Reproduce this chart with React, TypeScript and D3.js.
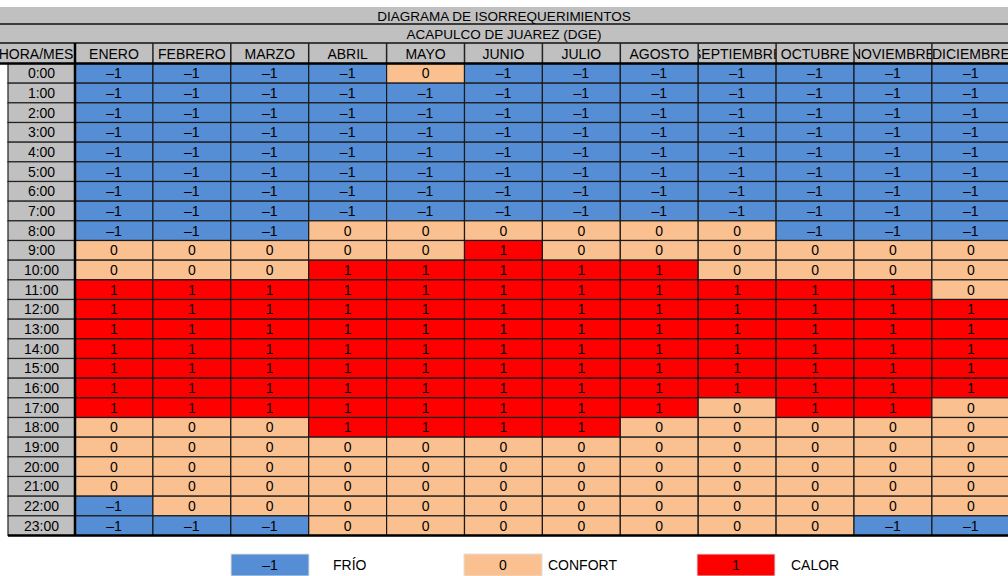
import React, { useRef, useEffect } from "react";
import * as d3 from "d3";

const months = ["ENERO", "FEBRERO", "MARZO", "ABRIL", "MAYO", "JUNIO", "JULIO", "AGOSTO", "SEPTIEMBRE", "OCTUBRE", "NOVIEMBRE", "DICIEMBRE"];
const hours = ["0:00", "1:00", "2:00", "3:00", "4:00", "5:00", "6:00", "7:00", "8:00", "9:00", "10:00", "11:00", "12:00", "13:00", "14:00", "15:00", "16:00", "17:00", "18:00", "19:00", "20:00", "21:00", "22:00", "23:00"];

// one array per month, values for 0:00 .. 23:00
const enero = [-1, -1, -1, -1, -1, -1, -1, -1, -1, 0, 0, 1, 1, 1, 1, 1, 1, 1, 0, 0, 0, 0, -1, -1];
const febrero = [-1, -1, -1, -1, -1, -1, -1, -1, -1, 0, 0, 1, 1, 1, 1, 1, 1, 1, 0, 0, 0, 0, 0, -1];
const marzo = [-1, -1, -1, -1, -1, -1, -1, -1, -1, 0, 0, 1, 1, 1, 1, 1, 1, 1, 0, 0, 0, 0, 0, -1];
const abril = [-1, -1, -1, -1, -1, -1, -1, -1, 0, 0, 1, 1, 1, 1, 1, 1, 1, 1, 1, 0, 0, 0, 0, 0];
const mayo = [0, -1, -1, -1, -1, -1, -1, -1, 0, 0, 1, 1, 1, 1, 1, 1, 1, 1, 1, 0, 0, 0, 0, 0];
const junio = [-1, -1, -1, -1, -1, -1, -1, -1, 0, 1, 1, 1, 1, 1, 1, 1, 1, 1, 1, 0, 0, 0, 0, 0];
const julio = [-1, -1, -1, -1, -1, -1, -1, -1, 0, 0, 1, 1, 1, 1, 1, 1, 1, 1, 1, 0, 0, 0, 0, 0];
const agosto = [-1, -1, -1, -1, -1, -1, -1, -1, 0, 0, 1, 1, 1, 1, 1, 1, 1, 1, 0, 0, 0, 0, 0, 0];
const septiembre = [-1, -1, -1, -1, -1, -1, -1, -1, 0, 0, 0, 1, 1, 1, 1, 1, 1, 0, 0, 0, 0, 0, 0, 0];
const octubre = [-1, -1, -1, -1, -1, -1, -1, -1, -1, 0, 0, 1, 1, 1, 1, 1, 1, 1, 0, 0, 0, 0, 0, 0];
const noviembre = [-1, -1, -1, -1, -1, -1, -1, -1, -1, 0, 0, 1, 1, 1, 1, 1, 1, 1, 0, 0, 0, 0, 0, -1];
const diciembre = [-1, -1, -1, -1, -1, -1, -1, -1, -1, 0, 0, 0, 1, 1, 1, 1, 1, 0, 0, 0, 0, 0, 0, -1];

const series = [enero, febrero, marzo, abril, mayo, junio, julio, agosto, septiembre, octubre, noviembre, diciembre];

const levels = [-1, 0, 1];
const levelNames = ["FRÍO", "CONFORT", "CALOR"];

const title = "DIAGRAMA DE ISORREQUERIMIENTOS";
const subtitle = "ACAPULCO DE JUAREZ (DGE)";

const W = 1008;
const H = 576;
const FONT = "'Liberation Sans', Arial, sans-serif";
const FS = 14;

const App = () => {
  const ref = useRef<SVGSVGElement>(null);

  useEffect(() => {
    if (!ref.current) return;
    const svg = d3.select(ref.current);
    svg.selectAll("*").remove();

    const x = d3.scaleBand<string>().domain(months).range([75, 75 + 12 * 77.9]);
    const y = d3.scaleBand<string>().domain(hours).range([63.5, 535.5]);
    const color = d3.scaleOrdinal<number, string>().domain(levels).range(["#558ed5", "#fac090", "#ff0000"]);
    const labelX0 = x(months[0])! - x.bandwidth();
    const fmt = (v: number) => (v < 0 ? "–1" : String(v));

    const defs = svg.append("defs");

    // title bars
    svg.append("rect").attr("x", 0).attr("y", 7).attr("width", W).attr("height", 56).attr("fill", "#c0c0c0");
    svg.append("line").attr("x1", 0).attr("x2", W).attr("y1", 24).attr("y2", 24).attr("stroke", "#111").attr("stroke-width", 1.5);
    svg.append("line").attr("x1", 0).attr("x2", W).attr("y1", 43).attr("y2", 43).attr("stroke", "#111").attr("stroke-width", 1.5);
    svg.append("text").attr("x", 504).attr("y", 20.5).attr("text-anchor", "middle").attr("font-family", FONT).attr("font-size", 13.5).text(title);
    svg.append("text").attr("x", 504).attr("y", 39).attr("text-anchor", "middle").attr("font-family", FONT).attr("font-size", 13.5).text(subtitle);

    // header row
    const headers = ["HORA/MES", ...months];
    const headX = (i: number) => (i === 0 ? labelX0 : x(months[i - 1])!);
    headers.forEach((h, i) => {
      const hx = headX(i);
      defs.append("clipPath").attr("id", `hclip${i}`)
        .append("rect").attr("x", hx).attr("y", 43).attr("width", x.bandwidth()).attr("height", 20);
      svg.append("text")
        .attr("clip-path", `url(#hclip${i})`)
        .attr("x", hx + x.bandwidth() / 2).attr("y", 58.5)
        .attr("text-anchor", "middle").attr("font-family", FONT).attr("font-size", FS)
        .text(h);
      if (i > 0) {
        svg.append("line").attr("x1", hx).attr("x2", hx).attr("y1", 43).attr("y2", 63)
          .attr("stroke", "#222").attr("stroke-width", 1.5);
      }
    });

    // hour labels
    const rows = svg.append("g");
    rows.selectAll("rect").data(hours).join("rect")
      .attr("x", 8).attr("y", (d) => y(d)!).attr("width", 75 - 8).attr("height", y.bandwidth())
      .attr("fill", "#c0c0c0").attr("stroke", "#222").attr("stroke-width", 1.2);
    rows.selectAll("text").data(hours).join("text")
      .attr("x", (8 + 75) / 2).attr("y", (d) => y(d)! + y.bandwidth() / 2 + 5)
      .attr("text-anchor", "middle").attr("font-family", FONT).attr("font-size", FS)
      .text((d) => d);

    // cells
    const cells = months.flatMap((m, mi) => hours.map((h, hi) => ({ m, h, v: series[mi][hi] })));
    const g = svg.append("g");
    g.selectAll("rect").data(cells).join("rect")
      .attr("x", (d) => x(d.m)!).attr("y", (d) => y(d.h)!)
      .attr("width", x.bandwidth()).attr("height", y.bandwidth())
      .attr("fill", (d) => color(d.v)).attr("stroke", "#1a1a1a").attr("stroke-width", 1.2);
    g.selectAll("text").data(cells).join("text")
      .attr("x", (d) => x(d.m)! + x.bandwidth() / 2).attr("y", (d) => y(d.h)! + y.bandwidth() / 2 + 5)
      .attr("text-anchor", "middle").attr("font-family", FONT).attr("font-size", FS)
      .text((d) => fmt(d.v));

    // heavy borders
    svg.append("line").attr("x1", 0).attr("x2", W).attr("y1", 63.5).attr("y2", 63.5).attr("stroke", "#000").attr("stroke-width", 2.5);
    svg.append("line").attr("x1", 8).attr("x2", W).attr("y1", 535.5).attr("y2", 535.5).attr("stroke", "#000").attr("stroke-width", 2.5);
    svg.append("line").attr("x1", 75).attr("x2", 75).attr("y1", 43).attr("y2", 535.5).attr("stroke", "#000").attr("stroke-width", 2.5);

    // legend
    const legX = [231, 464, 697];
    const legText = [333, 548, 791];
    const leg = svg.append("g");
    levels.forEach((lv, i) => {
      leg.append("rect").attr("x", legX[i]).attr("y", 554).attr("width", 78).attr("height", 22)
        .attr("fill", color(lv)).attr("stroke", "#e0e0e0").attr("stroke-width", 1);
      leg.append("text").attr("x", legX[i] + 39).attr("y", 570).attr("text-anchor", "middle")
        .attr("font-family", FONT).attr("font-size", FS).text(fmt(lv));
      leg.append("text").attr("x", legText[i]).attr("y", 570)
        .attr("font-family", FONT).attr("font-size", FS).text(levelNames[i]);
    });
  }, []);

  return (
    <svg ref={ref} width={W} height={H} style={{ position: "absolute", left: 0, top: 0, background: "#fff" }} />
  );
};

export default App;
